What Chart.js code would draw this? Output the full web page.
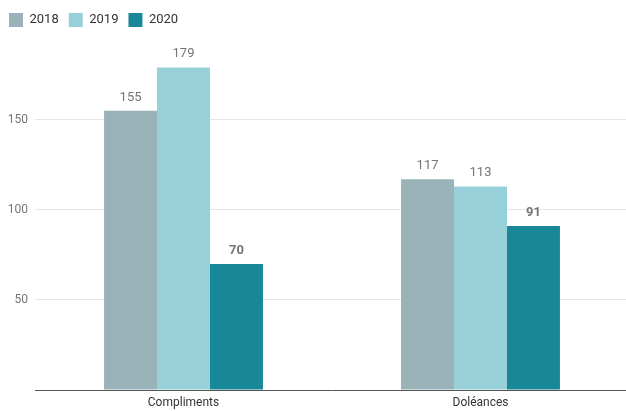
<!DOCTYPE html>
<html>
<head>
<meta charset="utf-8">
<script src="https://cdn.jsdelivr.net/npm/chart.js@4/dist/chart.umd.min.js"></script>
<style>
  html, body { margin: 0; padding: 0; background: #fff; overflow: hidden; }
  #wrap { width: 629px; height: 411px; }
</style>
</head>
<body>
<div id="wrap"><canvas id="barchart"></canvas></div>
<script>
const categories = ['Compliments', 'Doléances'];
const years = ['2018', '2019', '2020'];
const values2018 = [155, 117];
const values2019 = [179, 113];
const values2020 = [70, 91];
const yTicks = [50, 100, 150];
const colors = ['#9ab3b9', '#98d0d9', '#188797'];

// valeur au-dessus de chaque barre, en gras pour 2020
const barLabels = {
  id: 'barLabels',
  afterDatasetsDraw(chart) {
    const c = chart.ctx;
    c.save();
    c.textAlign = 'center';
    c.textBaseline = 'bottom';
    chart.data.datasets.forEach((ds, i) => {
      const meta = chart.getDatasetMeta(i);
      c.fillStyle = '#757575';
      c.font = (i === 2 ? 'bold ' : '') + '13px Roboto';
      meta.data.forEach((bar, j) => {
        c.fillText(ds.data[j], bar.x, bar.y - 7);
      });
    });
    c.restore();
  }
};

const ctx = document.getElementById('barchart');

const barchart = new Chart(ctx, {
  type: 'bar',
  data: {
    labels: categories,
    datasets: [
      { label: years[0], data: values2018, backgroundColor: colors[0] },
      { label: years[1], data: values2019, backgroundColor: colors[1] },
      { label: years[2], data: values2020, backgroundColor: colors[2] }
    ]
  },
  options: {
    responsive: true,
    maintainAspectRatio: false,
    animation: false,
    categoryPercentage: 0.535,
    barPercentage: 1,
    layout: { padding: { left: -1, right: 0, top: 3, bottom: 0 } },
    plugins: {
      legend: {
        align: 'start',
        labels: {
          boxWidth: 14,
          boxHeight: 14,
          padding: 10,
          color: '#333',
          font: { family: 'Roboto', size: 13 }
        }
      },
      tooltip: { enabled: false }
    },
    scales: {
      x: {
        grid: { display: false, drawTicks: false },
        border: { color: '#555', width: 1 },
        ticks: { color: '#333', font: { family: 'Roboto', size: 12 }, padding: 6 },
        afterFit(s) { s.height = 21; }
      },
      y: {
        min: 0,
        max: 196,
        border: { display: false },
        grid: {
          color: (c) => yTicks.includes(c.tick.value) ? '#e6e6e6' : 'rgba(0,0,0,0)',
          drawTicks: false
        },
        ticks: {
          stepSize: 50,
          padding: 7,
          color: '#757575',
          font: { family: 'Roboto', size: 12 },
          callback: (v) => yTicks.includes(v) ? v : ''
        },
        afterFit(s) { s.width = 36; }
      }
    }
  },
  plugins: [barLabels]
});
</script>
</body>
</html>
